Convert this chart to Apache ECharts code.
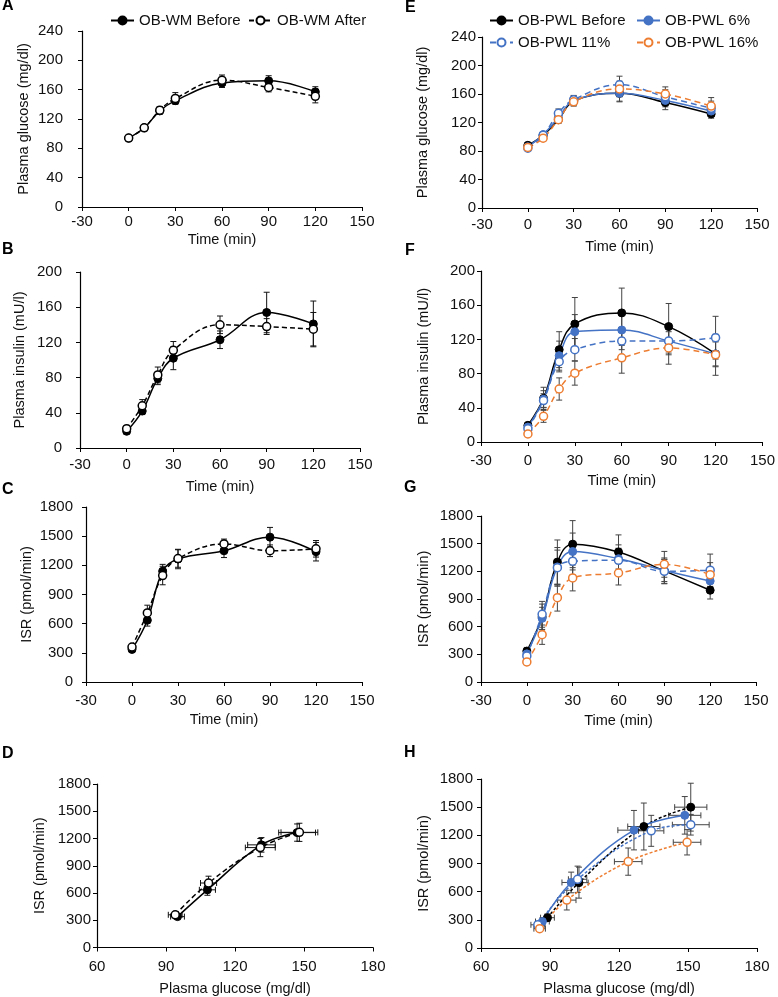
<!DOCTYPE html>
<html><head><meta charset="utf-8">
<script src="https://cdn.jsdelivr.net/npm/echarts@6/dist/echarts.min.js"></script>
<style>html,body{margin:0;padding:0;background:#fff}#c{width:778px;height:997px}</style>
</head><body><div id="c"></div>
<script>
const FONT = '"Liberation Sans", Arial, Helvetica, sans-serif';

// ---------- axes ----------
const TIME = [0, 10, 20, 30, 60, 90, 120];
const TIME_RANGE = [-30, 150, 30];
const GLU_X_RANGE = [60, 180, 30];
const GLU_RANGE = [0, 240, 40];
const INS_RANGE = [0, 200, 40];
const ISR_RANGE = [0, 1800, 300];

// ---------- A: plasma glucose, OB-WM ----------
const wmBeforeGlu   = [94, 108, 131, 145, 169, 172, 157];
const wmBeforeGluSE = [3, 3, 4, 4, 6, 7, 7];
const wmAfterGlu    = [94, 108, 132, 148, 173, 163, 151];
const wmAfterGluSE  = [3, 3, 5, 8, 7, 6, 9];

// ---------- B: plasma insulin, OB-WM ----------
const wmBeforeIns   = [19, 42, 79, 102, 123, 154, 141];
const wmBeforeInsSE = [3, 4, 7, 13, 10, 23, 26];
const wmAfterIns    = [22, 48, 83, 111, 140, 138, 135];
const wmAfterInsSE  = [3, 7, 9, 10, 10, 9, 19];

// ---------- C: ISR, OB-WM ----------
const wmBeforeIsr   = [335, 635, 1140, 1265, 1350, 1490, 1340];
const wmBeforeIsrSE = [25, 60, 70, 100, 70, 100, 95];
const wmAfterIsr    = [360, 710, 1095, 1270, 1420, 1350, 1370];
const wmAfterIsrSE  = [25, 80, 95, 90, 50, 60, 85];

// ---------- D: ISR vs glucose, OB-WM ----------
const dBeforeGlu   = [95, 108, 131.5, 147];
const dBeforeGluSE = [3, 3.5, 6, 8];
const dBeforeIsr   = [340, 635, 1130, 1265];
const dBeforeIsrSE = [25, 60, 80, 95];
const dAfterGlu    = [94, 108.5, 131, 148];
const dAfterGluSE  = [3, 3.5, 6.5, 8];
const dAfterIsr    = [360, 710, 1100, 1268];
const dAfterIsrSE  = [25, 75, 100, 100];

// ---------- E: plasma glucose, OB-PWL ----------
const pwlBeforeGlu  = [88, 102, 124, 150, 161, 148, 132];
const pwlBeforeGluSE= [3, 4, 5, 6, 12, 10, 6];
const pwl6Glu       = [86, 103, 127, 151, 161, 151, 136];
const pwl6GluSE     = [3, 4, 5, 6, 11, 9, 7];
const pwl11Glu      = [84, 102, 133, 152, 173, 156, 140];
const pwl11GluSE    = [3, 4, 6, 6, 12, 10, 10];
const pwl16Glu      = [85, 98, 124, 149, 167, 160, 143];
const pwl16GluSE    = [3, 4, 5, 6, 11, 10, 12];

// ---------- F: plasma insulin, OB-PWL ----------
const pwlBeforeIns  = [19.5, 51, 108, 138, 151, 135, 103];
const pwlBeforeInsSE= [3, 13, 21, 31, 29, 27, 15];
const pwl6Ins       = [17.5, 50, 101, 129, 131, 118, 103];
const pwl6InsSE     = [3, 10, 17, 20, 18, 16, 14];
const pwl11Ins      = [15.5, 48.5, 94, 108, 118, 118, 122];
const pwl11InsSE    = [3, 8, 12, 13, 10, 14, 25];
const pwl16Ins      = [9.5, 30, 62, 80.5, 98.5, 110, 102];
const pwl16InsSE    = [2, 7, 13, 14, 18, 19, 24];

// ---------- G: ISR, OB-PWL ----------
const pwlBeforeIsr  = [335, 705, 1300, 1495, 1410, 1205, 995];
const pwlBeforeIsrSE= [40, 140, 240, 255, 185, 140, 95];
const pwl6Isr       = [305, 690, 1248, 1415, 1337, 1210, 1095];
const pwl6IsrSE     = [40, 120, 210, 200, 150, 120, 120];
const pwl11Isr      = [282, 734, 1240, 1310, 1320, 1200, 1212];
const pwl11IsrSE    = [35, 140, 190, 150, 130, 130, 175];
const pwl16Isr      = [218, 513, 914, 1128, 1182, 1276, 1164];
const pwl16IsrSE    = [30, 105, 145, 140, 130, 140, 130];

// ---------- H: ISR vs glucose, OB-PWL ----------
const hBeforeGlu   = [88.9, 102.6, 130.8, 151.2];
const hBeforeGluSE = [3, 4, 7, 7];
const hBeforeIsr   = [323, 696, 1294, 1500];
const hBeforeIsrSE = [40, 165, 250, 255];
const h6Glu        = [86.7, 99.2, 126.5, 148.6];
const h6GluSE      = [3, 4, 7, 7];
const h6Isr        = [282, 698, 1255, 1413];
const h6IsrSE      = [40, 110, 210, 200];
const h11Glu       = [84.7, 102, 134, 151.2];
const h11GluSE     = [3, 4, 5.5, 8];
const h11Isr       = [247, 732, 1248, 1313];
const h11IsrSE     = [35, 140, 165, 110];
const h16Glu       = [85.5, 97.3, 124, 149.6];
const h16GluSE     = [2.5, 4, 6, 6];
const h16Isr       = [206, 510, 920, 1126];
const h16IsrSE     = [30, 105, 145, 135];

const NAMES_WM  = ['OB-WM Before', 'OB-WM After'];
const NAMES_PWL = ['OB-PWL Before', 'OB-PWL 6%', 'OB-PWL 11%', 'OB-PWL 16%'];

// ---------- styling / layout ----------
const C_BLACK = '#000000', C_BLUE = '#4472C4', C_ORANGE = '#ED7D31';
const ERR_L = '#111', ERR_R = '#444';

// panel layout: A,B,C,D,E,F,G,H
const P = [
  {g:{left:82,  top:31,  width:280, height:176}, xr:TIME_RANGE,  yr:GLU_RANGE, xn:'Time (min)', yn:'Plasma glucose (mg/dl)', xm:7.5, xg:25, ym:19, yg:51},
  {g:{left:80,  top:272, width:280, height:176}, xr:TIME_RANGE,  yr:INS_RANGE, xn:'Time (min)', yn:'Plasma insulin (mU/l)',  xm:9,   xg:31, ym:18, yg:53},
  {g:{left:86,  top:507, width:276, height:175}, xr:TIME_RANGE,  yr:ISR_RANGE, xn:'Time (min)', yn:'ISR (pmol/min)',         xm:11,  xg:30, ym:13, yg:52},
  {g:{left:97,  top:784, width:276, height:165}, xr:GLU_X_RANGE, yr:ISR_RANGE, xn:'Plasma glucose (mg/dl)', yn:'ISR (pmol/min)', xm:11.5, xg:33.5, ym:6, yg:50},
  {g:{left:482, top:37,  width:275, height:171}, xr:TIME_RANGE,  yr:GLU_RANGE, xn:'Time (min)', yn:'Plasma glucose (mg/dl)', xm:9,   xg:31, ym:6,  yg:52},
  {g:{left:481, top:271, width:285, height:171}, xr:TIME_RANGE,  yr:INS_RANGE, xn:'Time (min)', yn:'Plasma insulin (mU/l)',  xm:11,  xg:31, ym:6,  yg:50},
  {g:{left:481, top:516, width:275, height:166}, xr:TIME_RANGE,  yr:ISR_RANGE, xn:'Time (min)', yn:'ISR (pmol/min)',         xm:11.5,xg:31, ym:8,  yg:50},
  {g:{left:481, top:779, width:276, height:171}, xr:GLU_X_RANGE, yr:ISR_RANGE, xn:'Plasma glucose (mg/dl)', yn:'ISR (pmol/min)', xm:11, xg:33, ym:8, yg:50}
];

function axis(gi, r, name, margin, gap) {
  return {
    type: 'value', gridIndex: gi, min: r[0], max: r[1], interval: r[2],
    name: name, nameLocation: 'middle', nameGap: gap,
    nameTextStyle: {fontSize: 14.5, color: '#111', fontFamily: FONT},
    axisLine: {show: true, onZero: false, lineStyle: {color: '#000', width: 1.2}},
    axisTick: {show: true, length: 4, lineStyle: {color: '#000', width: 1}},
    splitLine: {show: false},
    axisLabel: {fontSize: 15, color: '#111', margin: margin, fontFamily: FONT,
                formatter: v => String(v)}
  };
}

function lineS(name, gi, xs, ys, color, open, dash, smooth) {
  return {
    type: 'line', name: name, xAxisIndex: gi, yAxisIndex: gi,
    data: xs.map((x, i) => [x, ys[i]]),
    smooth: smooth === undefined ? 0.4 : smooth,
    symbol: 'circle', symbolSize: 8, showSymbol: true,
    lineStyle: {color: color, width: 1.5, type: dash || 'solid'},
    itemStyle: {color: open ? '#ffffff' : color, borderColor: color, borderWidth: open ? 1.5 : 1},
    z: 3, emphasis: {disabled: true}, animation: false
  };
}

function errS(gi, xs, ys, yse, xse, color) {
  return {
    type: 'custom', xAxisIndex: gi, yAxisIndex: gi, z: 2, silent: true, animation: false,
    data: xs.map((x, i) => [x, ys[i], yse[i], xse ? xse[i] : 0]),
    encode: {x: 0, y: 1},
    renderItem: function (params, api) {
      const x = api.value(0), y = api.value(1), ye = api.value(2), xe = api.value(3);
      const cap = 3, st = {stroke: color, lineWidth: 1};
      const ch = [];
      if (ye > 0) {
        const t = api.coord([x, y + ye]), b = api.coord([x, y - ye]);
        ch.push({type: 'line', shape: {x1: t[0], y1: t[1], x2: b[0], y2: b[1]}, style: st});
        ch.push({type: 'line', shape: {x1: t[0] - cap, y1: t[1], x2: t[0] + cap, y2: t[1]}, style: st});
        ch.push({type: 'line', shape: {x1: b[0] - cap, y1: b[1], x2: b[0] + cap, y2: b[1]}, style: st});
      }
      if (xe > 0) {
        const l = api.coord([x - xe, y]), r = api.coord([x + xe, y]);
        ch.push({type: 'line', shape: {x1: l[0], y1: l[1], x2: r[0], y2: r[1]}, style: st});
        ch.push({type: 'line', shape: {x1: l[0], y1: l[1] - cap, x2: l[0], y2: l[1] + cap}, style: st});
        ch.push({type: 'line', shape: {x1: r[0], y1: r[1] - cap, x2: r[0], y2: r[1] + cap}, style: st});
      }
      return {type: 'group', children: ch};
    }
  };
}

const grid = P.map(p => p.g);
const xAxis = P.map((p, i) => axis(i, p.xr, p.xn, p.xm, p.xg));
const yAxis = P.map((p, i) => axis(i, p.yr, p.yn, p.ym, p.yg));

const DASH_WM = [5, 3], DASH_F = [6, 4], DASH_H = [3, 2];
const series = [];
// A
series.push(errS(0, TIME, wmBeforeGlu, wmBeforeGluSE, null, ERR_L), errS(0, TIME, wmAfterGlu, wmAfterGluSE, null, ERR_L));
series.push(lineS(NAMES_WM[0], 0, TIME, wmBeforeGlu, C_BLACK, false), lineS(NAMES_WM[1], 0, TIME, wmAfterGlu, C_BLACK, true, DASH_WM));
// B
series.push(errS(1, TIME, wmBeforeIns, wmBeforeInsSE, null, ERR_L), errS(1, TIME, wmAfterIns, wmAfterInsSE, null, ERR_L));
series.push(lineS(NAMES_WM[0], 1, TIME, wmBeforeIns, C_BLACK, false), lineS(NAMES_WM[1], 1, TIME, wmAfterIns, C_BLACK, true, DASH_WM));
// C
series.push(errS(2, TIME, wmBeforeIsr, wmBeforeIsrSE, null, ERR_L), errS(2, TIME, wmAfterIsr, wmAfterIsrSE, null, ERR_L));
series.push(lineS(NAMES_WM[0], 2, TIME, wmBeforeIsr, C_BLACK, false), lineS(NAMES_WM[1], 2, TIME, wmAfterIsr, C_BLACK, true, DASH_WM));
// D
series.push(errS(3, dBeforeGlu, dBeforeIsr, dBeforeIsrSE, dBeforeGluSE, ERR_L), errS(3, dAfterGlu, dAfterIsr, dAfterIsrSE, dAfterGluSE, ERR_L));
series.push(lineS(NAMES_WM[0], 3, dBeforeGlu, dBeforeIsr, C_BLACK, false), lineS(NAMES_WM[1], 3, dAfterGlu, dAfterIsr, C_BLACK, true, DASH_WM));

// E,F,G (time panels)
const pwlSets = [
  [4, [pwlBeforeGlu, pwl6Glu, pwl11Glu, pwl16Glu], [pwlBeforeGluSE, pwl6GluSE, pwl11GluSE, pwl16GluSE], DASH_F],
  [5, [pwlBeforeIns, pwl6Ins, pwl11Ins, pwl16Ins], [pwlBeforeInsSE, pwl6InsSE, pwl11InsSE, pwl16InsSE], DASH_F],
  [6, [pwlBeforeIsr, pwl6Isr, pwl11Isr, pwl16Isr], [pwlBeforeIsrSE, pwl6IsrSE, pwl11IsrSE, pwl16IsrSE], DASH_F]
];
const PWL_STYLE = [[C_BLACK, false, null], [C_BLUE, false, null], [C_BLUE, true, 'd'], [C_ORANGE, true, 'd']];
pwlSets.forEach(([gi, ys, ses, dash]) => {
  ys.forEach((y, k) => series.push(errS(gi, TIME, y, ses[k], null, ERR_R)));
  ys.forEach((y, k) => {
    const s = PWL_STYLE[k];
    series.push(lineS(NAMES_PWL[k], gi, TIME, y, s[0], s[1], s[2] ? dash : null));
  });
});
// H
const hX = [hBeforeGlu, h6Glu, h11Glu, h16Glu], hXSE = [hBeforeGluSE, h6GluSE, h11GluSE, h16GluSE];
const hY = [hBeforeIsr, h6Isr, h11Isr, h16Isr], hYSE = [hBeforeIsrSE, h6IsrSE, h11IsrSE, h16IsrSE];
const H_DASH = [DASH_H, null, DASH_H, DASH_H];
hX.forEach((x, k) => series.push(errS(7, x, hY[k], hYSE[k], hXSE[k], ERR_R)));
hX.forEach((x, k) => {
  const s = PWL_STYLE[k];
  series.push(lineS(NAMES_PWL[k], 7, x, hY[k], s[0], s[1], H_DASH[k]));
});

function leg(name, left, top) {
  return {
    data: [name], left: left, top: top, padding: 0, itemWidth: 23, itemHeight: 10,
    selectedMode: false, textStyle: {fontSize: 15, color: '#111', fontFamily: FONT}
  };
}
const legend = [
  leg(NAMES_WM[0], 110, 13), leg(NAMES_WM[1], 248, 13),
  leg(NAMES_PWL[0], 489, 13), leg(NAMES_PWL[1], 636, 13),
  leg(NAMES_PWL[2], 489, 35), leg(NAMES_PWL[3], 636, 35)
];

const LETTERS = [['A', 2, 6], ['B', 2, 250], ['C', 2, 490], ['D', 2, 754],
                 ['E', 405, 7.5], ['F', 405, 251], ['G', 404, 488], ['H', 404, 752.5]];
const graphic = LETTERS.map(([t, x, y]) => ({
  type: 'text', x: x, y: y, silent: true,
  style: {text: t, font: 'bold 16px ' + FONT, fill: '#000', align: 'left', verticalAlign: 'middle'}
}));

const chart = echarts.init(document.getElementById('c'), null, {renderer: 'canvas'});
chart.setOption({
  animation: false,
  backgroundColor: '#ffffff',
  textStyle: {fontFamily: FONT},
  grid: grid, xAxis: xAxis, yAxis: yAxis, legend: legend, series: series, graphic: graphic
});
</script></body></html>
